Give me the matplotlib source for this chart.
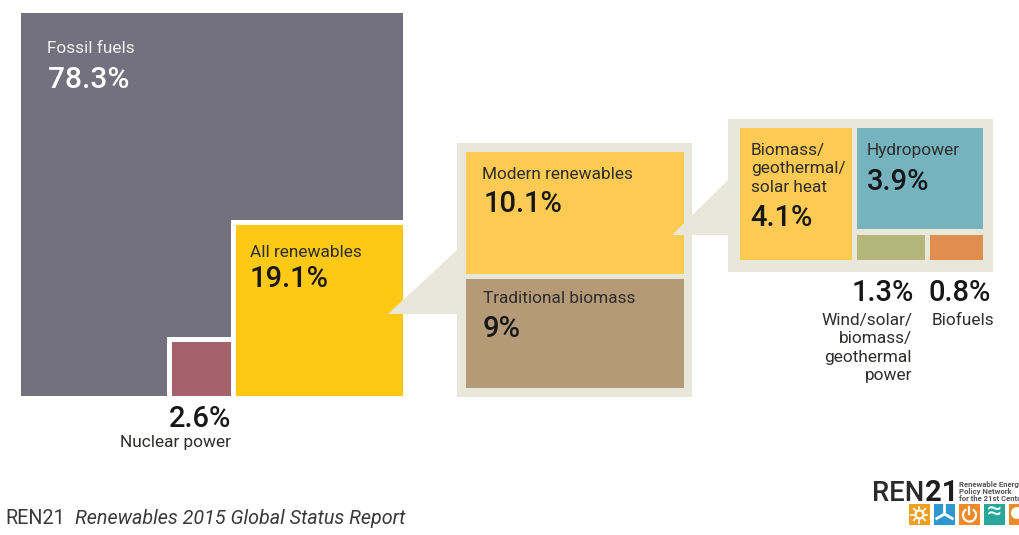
import numpy as np
import matplotlib
matplotlib.use("Agg")
import matplotlib.pyplot as plt
from matplotlib.patches import Rectangle, Polygon, Circle, Arc

# share of total final energy consumption, percent
fossil = 78.3
renewables = 19.1
nuclear = 2.6
modern = 10.1
traditional = 9
heat = 4.1
hydro = 3.9
wind_solar = 1.3
biofuels = 0.8

labels = {
    "fossil": ["Fossil fuels"],
    "renewables": ["All renewables"],
    "nuclear": ["Nuclear power"],
    "modern": ["Modern renewables"],
    "traditional": ["Traditional biomass"],
    "heat": ["Biomass/", "geothermal/", "solar heat"],
    "hydro": ["Hydropower"],
    "wind_solar": ["Wind/solar/", "biomass/", "geothermal", "power"],
    "biofuels": ["Biofuels"],
}

GREY = "#73717d"
ROSE = "#a4626a"
YELLOW = "#fdc915"
AMBER = "#fdca54"
BROWN = "#b59a78"
BEIGE = "#e9e7da"
TEAL = "#75b3bf"
OLIVE = "#b4b578"
ORANGE = "#e08d4f"
INK = "#17171a"
TXT = "#2e2d2c"

plt.rcParams["font.family"] = ["Roboto", "DejaVu Sans"]

fig = plt.figure(figsize=(10.19, 5.35), dpi=100, facecolor="w")
ax = fig.add_axes([0, 0, 1, 1])
ax.set_xlim(0, 1019)
ax.set_ylim(535, 0)
ax.axis("off")


def box(x, y, w, h, color, z=2):
    ax.add_patch(Rectangle((x, y), w, h, facecolor=color, edgecolor="none", zorder=z))


def name(x, y, lines, color=TXT, size=12.4, ha="left", step=18.3):
    for i, s in enumerate(lines):
        ax.text(x, y + i * step, s, color=color, fontsize=size, ha=ha, va="baseline", zorder=6)


def pct(x, y, v, color=INK, size=21, ha="left"):
    ax.text(x, y, f"{v:g}%", color=color, fontsize=size, fontweight="medium", ha=ha, va="baseline", zorder=6)


# main square, the two smaller shares sit in its bottom right corner
S_LEFT, S_TOP, S_RIGHT, S_BOTTOM = 21, 13, 403, 396
side = S_RIGHT - S_LEFT
total = fossil + renewables + nuclear
box(S_LEFT, S_TOP, side, S_BOTTOM - S_TOP, GREY)

ren_w = side * np.sqrt(renewables / total)
ren_h = ren_w + 4
ren_x = S_RIGHT - ren_w
ren_y = S_BOTTOM - ren_h
box(ren_x - 5.5, ren_y - 5, ren_w + 5.5, ren_h + 5, "w", z=3)
box(ren_x, ren_y, ren_w, ren_h, YELLOW, z=4)

nuc_w = side * np.sqrt(nuclear / total) - 3
nuc_h = nuc_w - 5
nuc_x = ren_x - 5.5 - nuc_w
nuc_y = S_BOTTOM - nuc_h
box(nuc_x - 5, nuc_y - 5, nuc_w + 5, nuc_h + 5, "w", z=3)
box(nuc_x, nuc_y, nuc_w, nuc_h, ROSE, z=4)

name(47, 53, labels["fossil"], color="#f2f2f2")
pct(48, 88, fossil, color="w", size=21.6)
name(250, 257, labels["renewables"])
pct(250, 287, renewables)
pct(231, 427, nuclear, ha="right")
name(231, 447, labels["nuclear"], ha="right")

# breakdown of all renewables
P2_X, P2_Y, P2_W, P2_H = 457, 143, 235, 254
box(P2_X, P2_Y, P2_W, P2_H, BEIGE, z=1)
ax.add_patch(Polygon([(P2_X, 250), (P2_X, 314), (388, 314)], facecolor=BEIGE, edgecolor="none", zorder=5))

in_x, in_w = 466, 218
in_top, in_bottom, gap = 152, 388, 5
mod_h = (in_bottom - in_top - gap) * modern / (modern + traditional)
box(in_x, in_top, in_w, mod_h, AMBER)
box(in_x, in_top + mod_h + gap, in_w, in_bottom - in_top - gap - mod_h, BROWN)

name(482, 179, labels["modern"])
pct(484, 212, modern)
name(483, 303, labels["traditional"])
pct(483, 337, traditional)

# breakdown of modern renewables
P3_X, P3_Y, P3_W, P3_H = 728, 118.5, 265, 153.5
box(P3_X, P3_Y, P3_W, P3_H, BEIGE, z=1)
ax.add_patch(Polygon([(P3_X, 180), (P3_X, 235), (672, 235)], facecolor=BEIGE, edgecolor="none", zorder=5))

x0, y0, y1 = 740, 128, 260
heat_w = heat * 27.3
hx = x0 + heat_w + 5
hw = 983 - hx
hydro_h = hydro * 26
box(x0, y0, heat_w, y1 - y0, AMBER)
box(hx, y0, hw, hydro_h, TEAL)

small_y = y0 + hydro_h + 6
r1, r2 = np.sqrt(wind_solar), np.sqrt(biofuels)
w1 = (hw - 5) * r1 / (r1 + r2)
box(hx, small_y, w1, y1 - small_y, OLIVE)
box(hx + w1 + 5, small_y, hw - 5 - w1, y1 - small_y, ORANGE)

name(751, 155, labels["heat"])
pct(750, 226, heat)
name(867, 155, labels["hydro"])
pct(867, 190, hydro)
pct(914, 301, wind_solar, ha="right")
pct(991, 301, biofuels, ha="right")
name(912, 325, labels["wind_solar"], ha="right")
name(994, 325, labels["biofuels"], ha="right")

# footer
ax.text(5, 524, "REN21", color="#3a3a3a", fontsize=14.2, va="baseline")
ax.text(75, 524, "Renewables 2015 Global Status Report", color="#3a3a3a", fontsize=14.2,
        style="italic", va="baseline")

# logo
ax.text(872, 501, "REN", color="#2b2b2b", fontsize=19.8, fontweight="medium", va="baseline")
ax.text(958, 501, "21", color="#1d1d1d", fontsize=21, fontweight="bold", ha="right", va="baseline")
for yy, s in zip([487.5, 494, 500.5], ["Renewable Energy", "Policy Network", "for the 21st Century"]):
    ax.text(959, yy, s, color="#55555a", fontsize=5.6, fontweight="bold", va="baseline", clip_on=True)

for xx, c in zip([909, 934, 959, 984, 1009], ["#eda122", "#2f96cf", "#ef8a2a", "#2aa79b", "#ef8a2a"]):
    box(xx, 504, 21, 21, c)

# sun
ax.add_patch(Circle((919.5, 514.5), 4, facecolor="none", edgecolor="w", lw=1.6, zorder=4))
for a in np.arange(0, 360, 45):
    t = np.deg2rad(a)
    ax.plot([919.5 + 5.5 * np.cos(t), 919.5 + 8 * np.cos(t)], [514.5 + 5.5 * np.sin(t), 514.5 + 8 * np.sin(t)],
            color="w", lw=1.2, zorder=4)
# turbine
for a in [-90, 30, 150]:
    t = np.deg2rad(a)
    ax.plot([944.5, 944.5 + 9 * np.cos(t)], [514, 514 + 9 * np.sin(t)], color="w", lw=2, zorder=4)
# power button
ax.add_patch(Arc((969.5, 515), 13, 13, theta1=-60, theta2=240, color="w", lw=1.6, zorder=4))
ax.plot([969.5, 969.5], [507, 514], color="w", lw=1.6, zorder=4)
# water, then biomass leaf
ax.text(994.5, 513, "≈", color="w", fontsize=19, ha="center", va="center", zorder=4)
ax.add_patch(Circle((1017, 513), 6, facecolor="w", edgecolor="none", zorder=4))

fig.savefig("out.png", dpi=100)
